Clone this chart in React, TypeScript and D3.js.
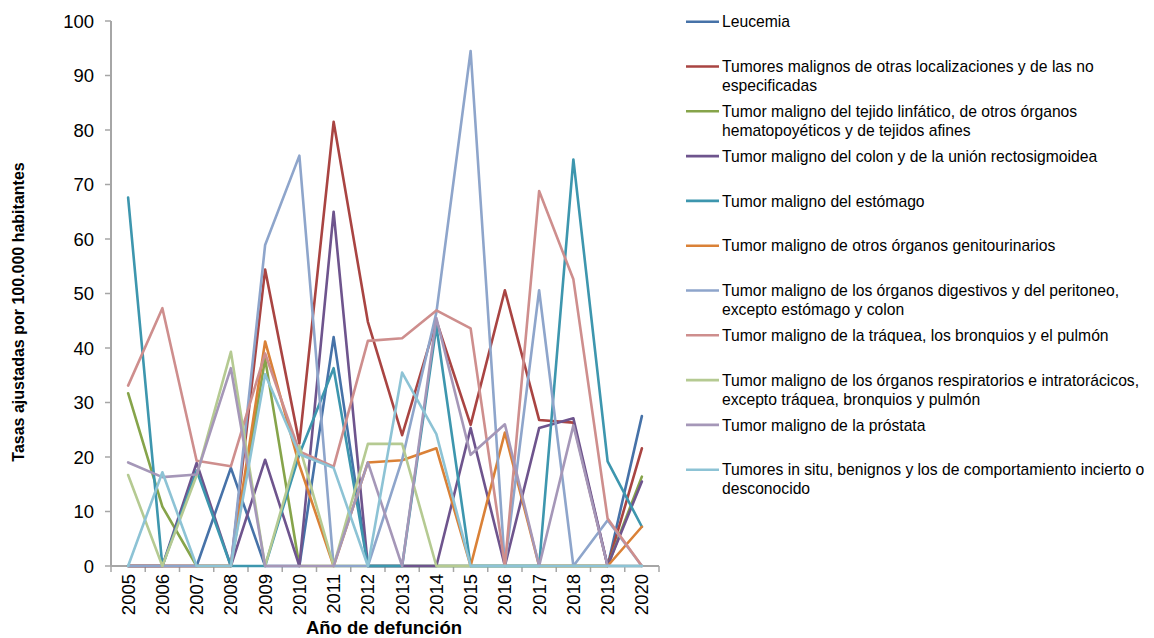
import React from 'react';
import * as d3 from 'd3';

const years = ['2005', '2006', '2007', '2008', '2009', '2010', '2011', '2012', '2013', '2014', '2015', '2016', '2017', '2018', '2019', '2020'];

const leucemia = [0, 0, 0, 18, 0, 0, 42, 0, 0, 0, 0, 0, 0, 0, 0, 27.5];
const otrasLocalizaciones = [0, 0, 0, 0, 54.4, 22.5, 81.5, 44.8, 24, 45, 25.9, 50.6, 26.8, 26.3, 0, 21.6];
const tejidoLinfatico = [31.7, 10.9, 0, 0, 38, 0, 0, 0, 0, 0, 0, 0, 0, 0, 0, 16.4];
const colon = [0, 0, 18.9, 0, 19.5, 0, 65, 0, 0, 0, 25.3, 0, 25.3, 27.1, 0, 15.5];
const estomago = [67.6, 0, 17.5, 0, 0, 20.5, 36.3, 0, 0, 44, 0, 0, 0, 74.6, 19.2, 7.2];
const genitourinarios = [0, 0, 0, 0, 41.2, 18.5, 0, 19, 19.4, 21.6, 0, 24.5, 0, 0, 0, 7.2];
const digestivos = [0, 0, 0, 0, 58.9, 75.3, 0, 0, 19.5, 46.5, 94.5, 0, 50.6, 0, 8.4, 0];
const traquea = [33.1, 47.3, 19.3, 18.3, 39, 21, 18.2, 41.3, 41.8, 46.9, 43.6, 0, 68.8, 52.6, 8.7, 0];
const respiratorios = [16.7, 0, 16.6, 39.3, 0, 22, 0, 22.4, 22.4, 0, 0, 0, 0, 0, 0, 0];
const prostata = [19, 16.3, 16.8, 36.3, 0, 0, 0, 19, 0, 45.5, 20.4, 26, 0, 25.8, 0, 0];
const inSitu = [0, 17.2, 0, 0, 35.2, 20.5, 18, 0, 35.5, 24.2, 0, 0, 0, 0, 0, 0];

const yTicks = [0, 10, 20, 30, 40, 50, 60, 70, 80, 90, 100];

const series = [
  { name: ['Leucemia'], values: leucemia, color: '#4672A8' },
  { name: ['Tumores malignos de otras localizaciones y de las no', 'especificadas'], values: otrasLocalizaciones, color: '#A94442' },
  { name: ['Tumor maligno del tejido linfático, de otros órganos', 'hematopoyéticos y de tejidos afines'], values: tejidoLinfatico, color: '#86A44A' },
  { name: ['Tumor maligno del colon y de la unión rectosigmoidea'], values: colon, color: '#6E548D' },
  { name: ['Tumor maligno del estómago'], values: estomago, color: '#3D96AE' },
  { name: ['Tumor maligno de otros órganos genitourinarios'], values: genitourinarios, color: '#DA8137' },
  { name: ['Tumor maligno de los órganos digestivos y del peritoneo,', 'excepto estómago y colon'], values: digestivos, color: '#8EA5CB' },
  { name: ['Tumor maligno de la tráquea, los bronquios y el pulmón'], values: traquea, color: '#CE8E8D' },
  { name: ['Tumor maligno de los órganos respiratorios e intratorácicos,', 'excepto tráquea, bronquios y pulmón'], values: respiratorios, color: '#B5CA92' },
  { name: ['Tumor maligno de la próstata'], values: prostata, color: '#A597B8' },
  { name: ['Tumores in situ, benignos y los de comportamiento incierto o', 'desconocido'], values: inSitu, color: '#8DC3D5' },
];

const W = 1154;
const H = 638;
const left = 111;
const right = 659;
const top = 21;
const bottom = 566;
const font = 'Arial, "Liberation Sans", sans-serif';
const axisColor = '#A6A6A6';

export default function App() {
  const x = d3.scaleBand().domain(years).range([left, right]);
  const y = d3.scaleLinear().domain([0, 100]).range([bottom, top]);
  const cx = (d: string) => (x(d) as number) + x.bandwidth() / 2;

  const line = d3
    .line<number>()
    .x((_, i) => cx(years[i]))
    .y((v) => y(v));

  const legendX = 686;
  const legendTop = 21.7;
  const legendStep = 44.8;

  return (
    <div style={{ position: 'absolute', left: 0, top: 0 }}>
      <svg width={W} height={H} style={{ display: 'block', background: '#fff' }} fontFamily={font}>
        {/* y axis */}
        <line x1={left} x2={left} y1={top} y2={bottom} stroke={axisColor} strokeWidth={2} />
        {yTicks.map((t) => (
          <g key={t}>
            <line x1={left - 6} x2={left} y1={y(t)} y2={y(t)} stroke={axisColor} strokeWidth={1.5} />
            <text x={94} y={y(t)} dy="0.36em" textAnchor="end" fontSize={18.5} fill="#000">
              {t}
            </text>
          </g>
        ))}
        {/* x axis */}
        <line x1={left} x2={right} y1={bottom} y2={bottom} stroke={axisColor} strokeWidth={2} />
        {d3.range(years.length + 1).map((i) => {
          const px = left + i * x.bandwidth();
          return <line key={i} x1={px} x2={px} y1={bottom} y2={bottom + 6} stroke={axisColor} strokeWidth={1.5} />;
        })}
        {years.map((yr) => (
          <text
            key={yr}
            transform={`translate(${cx(yr) + 6.5},574) rotate(-90)`}
            textAnchor="end"
            fontSize={18.5}
            fill="#000"
          >
            {yr}
          </text>
        ))}
        <text x={384} y={634} textAnchor="middle" fontSize={18.5} fontWeight="bold" fill="#000">
          Año de defunción
        </text>
        <text
          transform={`translate(24,312) rotate(-90)`}
          textAnchor="middle"
          fontSize={16}
          fontWeight="bold"
          fill="#000"
        >
          Tasas ajustadas por 100.000 habitantes
        </text>

        {/* series */}
        {series.map((s) => (
          <path
            key={s.name[0]}
            d={line(s.values) || ''}
            fill="none"
            stroke={s.color}
            strokeWidth={2.6}
            strokeLinejoin="round"
            strokeLinecap="round"
          />
        ))}

        {/* legend */}
        {series.map((s, i) => {
          const ly = legendTop + i * legendStep;
          return (
            <g key={s.name[0]}>
              <line x1={legendX} x2={legendX + 33} y1={ly} y2={ly} stroke={s.color} strokeWidth={2.6} />
              {s.name.map((t, j) => (
                <text key={j} x={722} y={ly + j * 19} dy="0.36em" fontSize={15.7} fill="#000">
                  {t}
                </text>
              ))}
            </g>
          );
        })}
      </svg>
    </div>
  );
}
